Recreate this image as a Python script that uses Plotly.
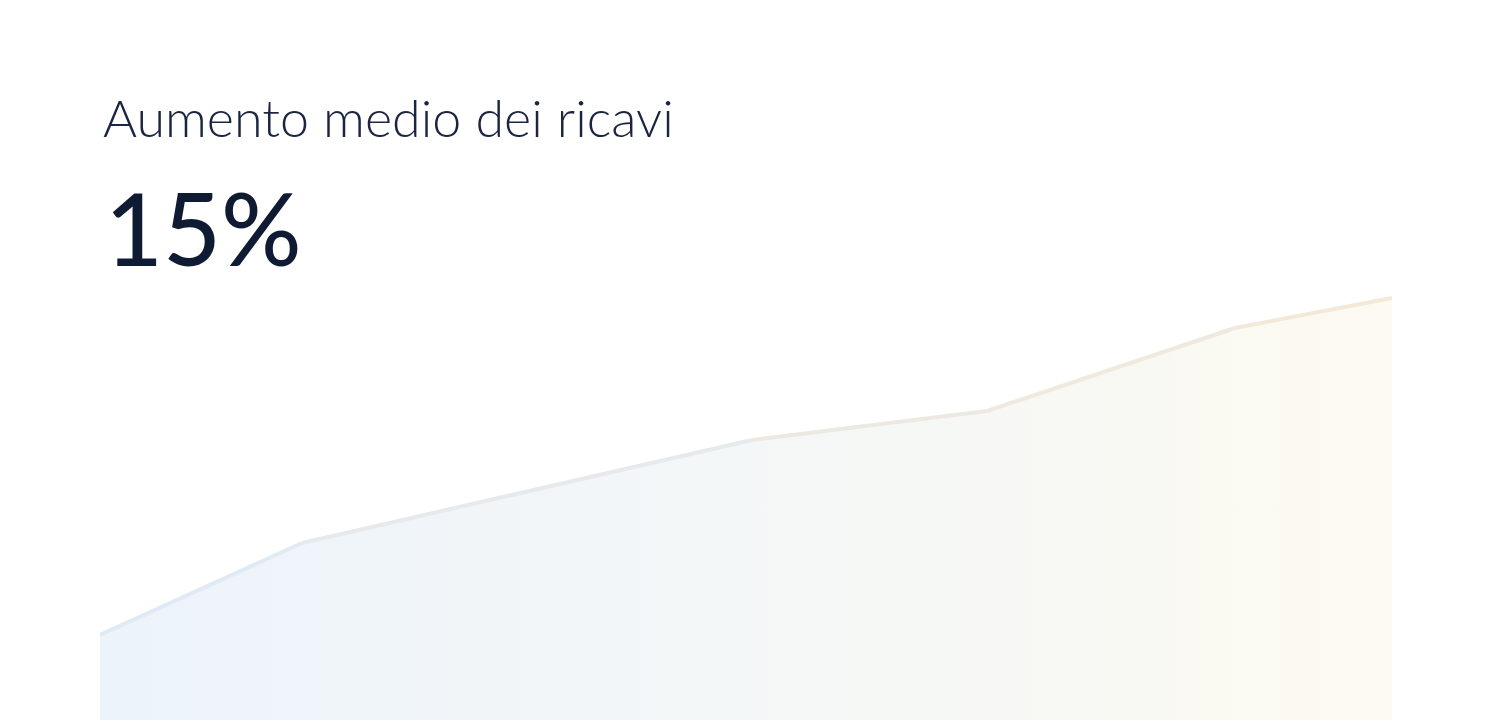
import plotly.graph_objects as go

# Dati: andamento dei ricavi
periodi = [0, 2.02, 6.52, 8.87, 11.35, 12.92]
ricavi = [8.5, 17.7, 28.0, 30.9, 39.2, 42.2]

titolo = "Aumento medio dei ricavi"
valore_kpi = "15%"

# Colori sfumati (da azzurro a beige)
col_inizio = (222, 234, 247)
col_fine = (245, 233, 214)


def mix(c1, c2, t):
    return "rgb(%d,%d,%d)" % tuple(round(a + (b - a) * t) for a, b in zip(c1, c2))


fig = go.Figure()

# Area riempita con sfumatura orizzontale
fig.add_trace(
    go.Scatter(
        x=periodi,
        y=ricavi,
        mode='lines',
        line=dict(width=0),
        fill='tozeroy',
        fillgradient=dict(
            type='horizontal',
            colorscale=[[0, '#edf3fb'], [0.5, '#f4f7f7'], [1, '#fcfaf1']]
        ),
        hoverinfo='skip',
        showlegend=False
    )
)

# Linea: un segmento per volta per simulare il gradiente
x_min, x_max = periodi[0], periodi[-1]
for i in range(len(periodi) - 1):
    t = ((periodi[i] + periodi[i + 1]) / 2 - x_min) / (x_max - x_min)
    fig.add_trace(
        go.Scatter(
            x=periodi[i:i + 2],
            y=ricavi[i:i + 2],
            mode='lines',
            line=dict(color=mix(col_inizio, col_fine, t), width=4),
            hovertemplate='%{y:.1f}<extra></extra>',
            showlegend=False
        )
    )

fig.add_annotation(
    text=titolo,
    xref='paper', yref='paper',
    x=0, y=1,
    xanchor='left', yanchor='bottom',
    yshift=140,
    xshift=1,
    showarrow=False,
    font=dict(family='Lato', size=52, color='#1b2540', weight=300)
)
fig.add_annotation(
    text=valore_kpi,
    xref='paper', yref='paper',
    x=0, y=1,
    xanchor='left', yanchor='bottom',
    yshift=1,
    xshift=3,
    showarrow=False,
    font=dict(family='Lato', size=100, color='#0f1a33', weight=500)
)

fig.update_layout(
    width=1500,
    height=725,
    margin=dict(l=92, r=116, t=282, b=13),
    paper_bgcolor='white',
    plot_bgcolor='white',
    xaxis=dict(range=[x_min, x_max], visible=False, fixedrange=True),
    yaxis=dict(range=[0, 43], visible=False, fixedrange=True),
    showlegend=False
)

fig.write_html("out.html")
